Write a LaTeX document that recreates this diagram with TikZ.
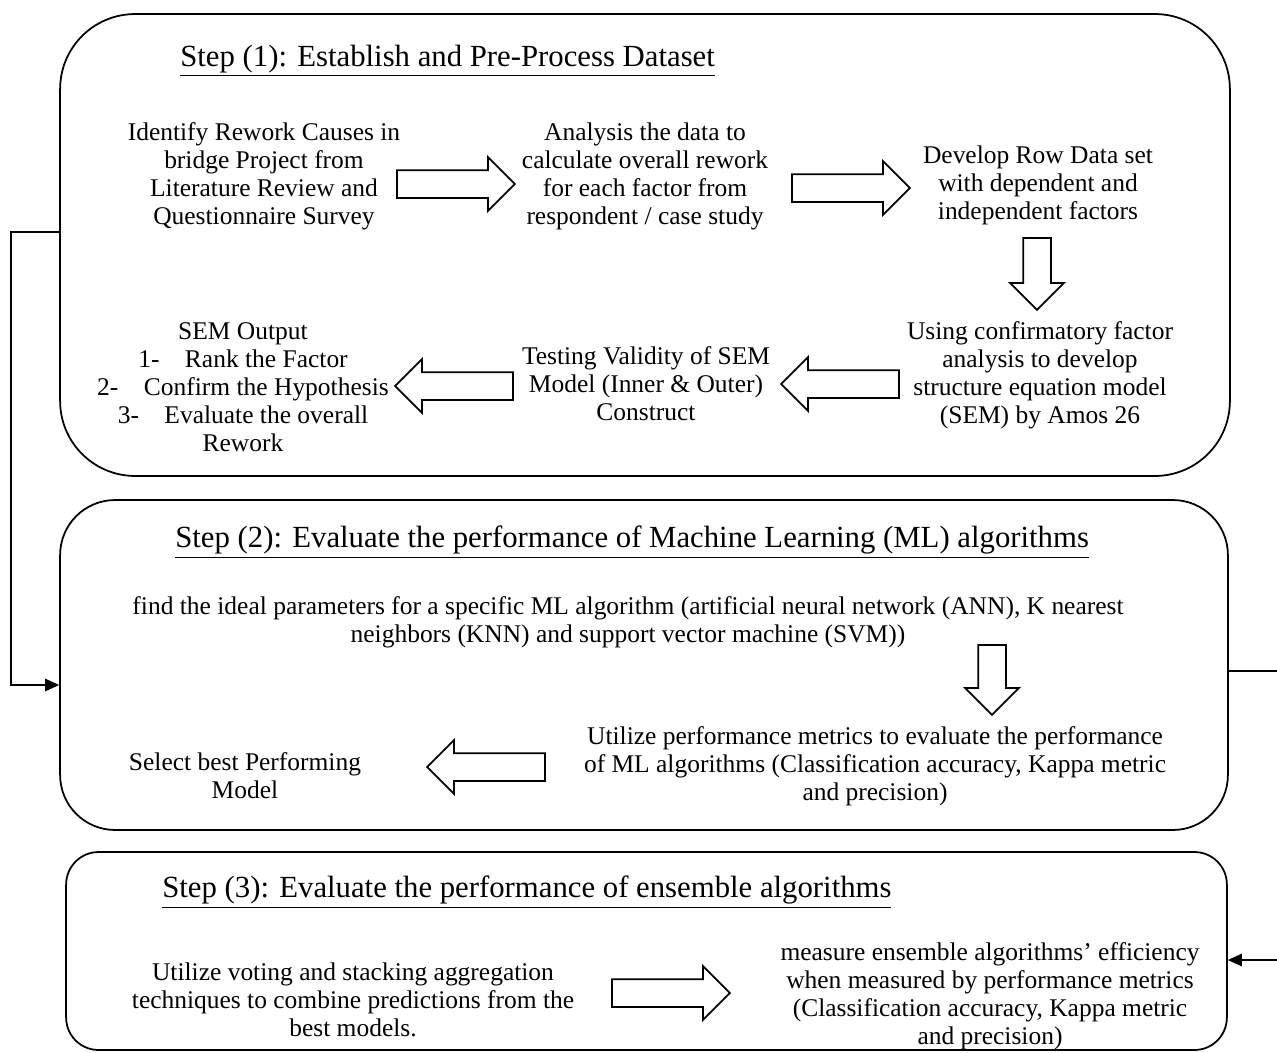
\documentclass[tikz,border=0pt]{standalone}
\usepackage{fontspec}
\setmainfont{Liberation Serif}
\usetikzlibrary{arrows.meta, shapes.arrows, positioning}

\tikzset{
  stepbox/.style={draw, line width=1pt, inner sep=0pt},
  textnode/.style={align=center, inner sep=0pt, font=\fontsize{14.5}{15.9}\selectfont},
  titlenode/.style={anchor=west, inner sep=0pt, font=\fontsize{17.5}{20}\selectfont},
  blockarrow/.style={single arrow, draw, line width=1pt, inner xsep=0pt, inner ysep=0.26cm,
    single arrow head extend=0.26cm, minimum height=#1},
  blockarrow/.default=2.36cm,
  link/.style={line width=1pt},
}

\begin{document}
\begin{tikzpicture}[x=0.02cm, y=-0.02cm]
\useasboundingbox (0,0) rectangle (1277,1052);

% step boxes
\node[stepbox, rounded corners=1.5cm, minimum width=23.4cm, minimum height=9.24cm] (step1) at (645,245) {};
\node[stepbox, rounded corners=1.1cm, minimum width=23.36cm, minimum height=6.6cm] (step2) at (644,665) {};
\node[stepbox, rounded corners=0.65cm, minimum width=23.22cm, minimum height=3.96cm] (step3) at (646.5,951) {};

% titles
\node[titlenode] (title1) at (180,61) {\underline{Step (1): Establish and Pre-Process Dataset}};
\node[titlenode] (title2) at (175,542) {\underline{Step (2): Evaluate the performance of Machine Learning (ML) algorithms}};
\node[titlenode] (title3) at (162,892) {\underline{Step (3): Evaluate the performance of ensemble algorithms}};

% step 1
\node[textnode] (identify) at (264,176) {Identify Rework Causes in\\bridge Project from\\Literature Review and\\Questionnaire Survey};
\node[textnode] (analysis) at (645,176) {Analysis the data to\\calculate overall rework\\for each factor from\\respondent / case study};
\node[textnode] (rowdata) at (1038,185) {Develop Row Data set\\with dependent and\\independent factors};
\node[textnode] (confirm) at (1040,375) {Using confirmatory factor\\analysis to develop\\structure equation model\\(SEM) by Amos 26};
\node[textnode] (validity) at (646,384) {Testing Validity of SEM\\Model (Inner \& Outer)\\Construct};
\node[textnode] (semout) at (243,387) {SEM Output\\1-\quad Rank the Factor\\2-\quad Confirm the Hypothesis\\3-\quad Evaluate the overall\\Rework};

\node[blockarrow] (a1) at (449,184) {};
\node[blockarrow] (a2) at (844,188) {};
\node[blockarrow=1.44cm, rotate=-90] (a3) at (1037,267) {};
\node[blockarrow, rotate=180] (a4) at (847,384) {};
\node[blockarrow, rotate=180] (a5) at (461,386) {};

% step 2
\node[textnode] (params) at (628,622) {find the ideal parameters for a specific ML algorithm (artificial neural network (ANN), K nearest\\neighbors (KNN) and support vector machine (SVM))};
\node[textnode] (metrics) at (875,766) {Utilize performance metrics to evaluate the performance\\of ML algorithms (Classification accuracy, Kappa metric\\and precision)};
\node[textnode] (select) at (245,776) {Select best Performing\\Model};

\node[blockarrow=1.4cm, rotate=-90] (a6) at (992,673) {};
\node[blockarrow, rotate=180] (a7) at (493,767) {};

% step 3
\node[textnode] (voting) at (353,1000) {Utilize voting and stacking aggregation\\techniques to combine predictions from the\\best models.};
\node[textnode] (ensemble) at (990,996) {measure ensemble algorithms' efficiency\\when measured by performance metrics\\(Classification accuracy, Kappa metric\\and precision)};

\node[blockarrow] (a8) at (664,993) {};

% links between steps
\coordinate (outA) at (1277,671);
\coordinate (outB) at (1277,960);
\draw[link, -{Triangle[length=8pt,width=7pt]}] (step1.west |- 0,232) -- ++(-48,0) |- (step2.west |- 0,685);
\draw[link] (step2.east |- outA) -- (outA);
\draw[link, -{Triangle[length=8pt,width=7pt]}] (outB) -- (step3.east |- outB);
\end{tikzpicture}
\end{document}
